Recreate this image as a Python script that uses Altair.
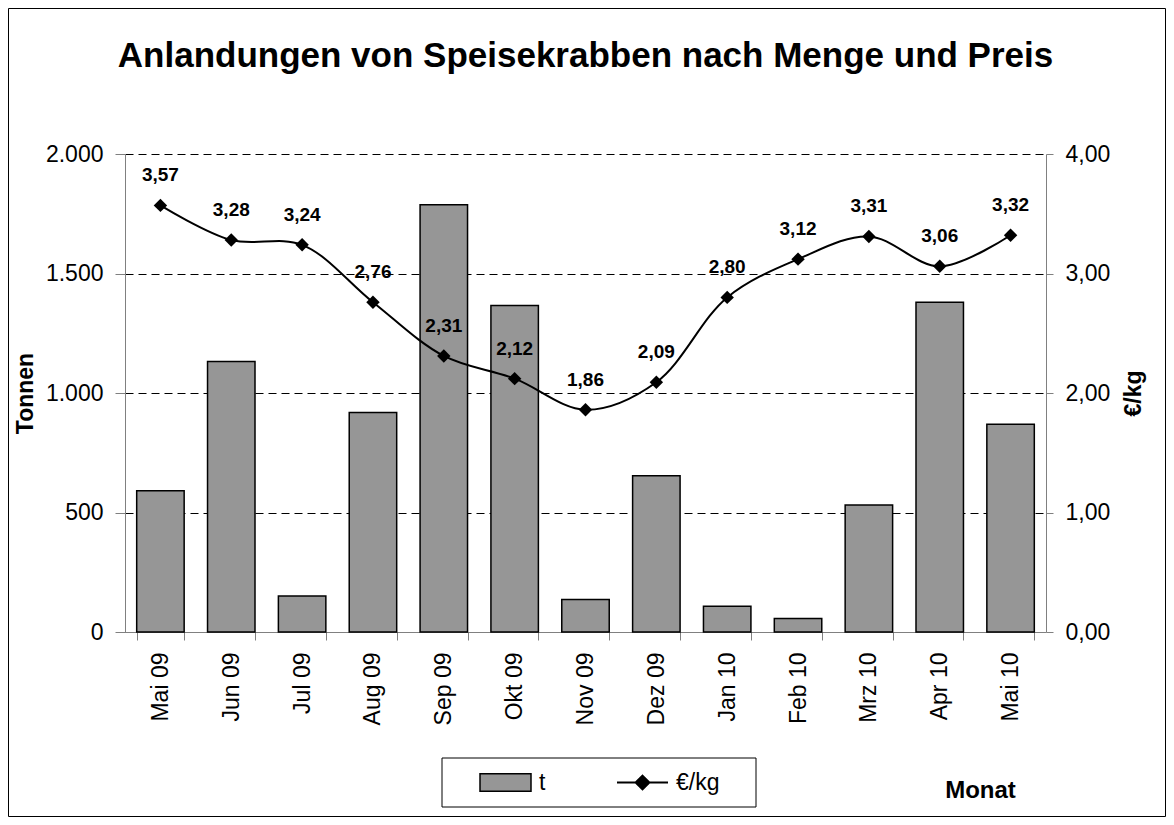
import altair as alt
import pandas as pd

months = ["Mai 09", "Jun 09", "Jul 09", "Aug 09", "Sep 09", "Okt 09", "Nov 09",
          "Dez 09", "Jan 10", "Feb 10", "Mrz 10", "Apr 10", "Mai 10"]
tonnen = [591, 1132, 151, 918, 1788, 1366, 136, 654, 108, 56, 531, 1380, 869]
preis = [3.57, 3.28, 3.24, 2.76, 2.31, 2.12, 1.86, 2.09, 2.80, 3.12, 3.31, 3.06, 3.32]
left_ticks = [0, 500, 1000, 1500, 2000]
right_ticks = [0, 1, 2, 3, 4]

FONT = "Liberation Sans"
W, H = 921, 478

df = pd.DataFrame({"Monat": months, "t": tonnen, "preis": preis})
df["s_t"] = "t"
df["s_p"] = "€/kg"

x = alt.X(
    "Monat:N", sort=months,
    scale=alt.Scale(paddingInner=0.33, paddingOuter=0.165),
    axis=alt.Axis(
        labelAngle=270, labelFontSize=23, labelFont=FONT, labelColor="black",
        tickBand="extent", tickSize=8, labelPadding=12,
        domainColor="#808080", tickColor="#808080",
        title="Monat", titleFont=FONT, titleFontSize=24, titleFontWeight="bold",
        titleX=855, titleY=158, titleAlign="center", titleBaseline="middle",
        grid=False,
    ),
)

rect_path = "M-1,-0.34L1,-0.34L1,0.34L-1,0.34Z"
line_path = "M-1,0L1,0M0,-0.27L0.27,0L0,0.27L-0.27,0Z"

bars = alt.Chart(df).mark_bar(stroke="black", strokeWidth=1.5).encode(
    x=x,
    y=alt.Y(
        "t:Q", scale=alt.Scale(domain=[0, 2000]),
        axis=alt.Axis(
            values=left_ticks,
            labelExpr="replace(format(datum.value, ',.0f'), ',', '.')",
            labelFontSize=23, labelFont=FONT, labelColor="black",
            tickSize=10, labelPadding=12,
            domainColor="#808080", tickColor="#808080",
            grid=True, gridColor="black", gridDash=[8, 5], gridWidth=1,
            title="Tonnen", titleFont=FONT, titleFontSize=23, titleFontWeight="bold",
            titleAngle=270, titleX=-100, titleY=H / 2,
            titleAlign="center", titleBaseline="middle",
        ),
    ),
    fill=alt.Fill(
        "s_t:N", scale=alt.Scale(domain=["t"], range=["#969696"]),
        legend=alt.Legend(
            orient="none", legendX=354, legendY=602, title=None,
            symbolType=rect_path, symbolSize=2601, symbolStrokeColor="black",
            symbolStrokeWidth=1.5, labelFontSize=23, labelFont=FONT,
            labelColor="black", labelOffset=7, padding=0,
        ),
    ),
)

y_price = alt.Y(
    "preis:Q", scale=alt.Scale(domain=[0, 4]),
    axis=alt.Axis(
        orient="right", values=right_ticks,
        labelExpr="replace(format(datum.value, '.2f'), '.', ',')",
        labelFontSize=23, labelFont=FONT, labelColor="black",
        tickSize=7, labelPadding=12,
        domainColor="#808080", tickColor="#808080", grid=False,
        title="€/kg", titleFont=FONT, titleFontSize=23, titleFontWeight="bold",
        titleAngle=270, titleX=87, titleY=H / 2,
        titleAlign="center", titleBaseline="middle",
    ),
)

color_p = alt.Color(
    "s_p:N", scale=alt.Scale(domain=["€/kg"], range=["black"]),
    legend=alt.Legend(
        orient="none", legendX=491, legendY=602, title=None,
        symbolType=line_path, symbolSize=2601, symbolStrokeWidth=2,
        symbolFillColor="black", symbolStrokeColor="black",
        labelFontSize=23, labelFont=FONT, labelColor="black",
        labelOffset=7, padding=0,
    ),
)

line = alt.Chart(df).mark_line(interpolate="catmull-rom", strokeWidth=2).encode(
    x=x, y=y_price, color=color_p
)
points = alt.Chart(df).mark_point(shape="diamond", filled=True, size=180, opacity=1).encode(
    x=x, y=y_price, color=color_p
)
labels = alt.Chart(df).transform_calculate(
    lab="replace(format(datum.preis, '.2f'), '.', ',')"
).mark_text(
    fontSize=19, fontWeight="bold", font=FONT, dy=-30, color="black", baseline="middle"
).encode(x=x, y=y_price, text="lab:N")

deco = pd.DataFrame({"k": [0]})
legend_box = alt.Chart(deco).mark_rect(filled=False, stroke="black", strokeWidth=1).encode(
    x=alt.value(317), x2=alt.value(631), y=alt.value(604), y2=alt.value(653)
)
outer_box = alt.Chart(deco).mark_rect(filled=False, stroke="black", strokeWidth=1).encode(
    x=alt.value(-116.5), x2=alt.value(W + 119.5), y=alt.value(-145.5), y2=alt.value(H + 184.5)
)

price_layer = alt.layer(line, points, labels)

chart = alt.layer(bars, price_layer, legend_box, outer_box).resolve_scale(
    y="independent"
).properties(
    width=W, height=H,
    autosize=alt.AutoSizeParams(type="none"),
    padding={"left": 117, "top": 146, "right": 120, "bottom": 185},
    title=alt.TitleParams(
        "Anlandungen von Speisekrabben nach Menge und Preis",
        fontSize=35, font=FONT, fontWeight="bold", color="black",
        anchor="middle", frame="group", offset=-94, baseline="alphabetic",
    ),
    background="white",
).configure_view(strokeWidth=0)

chart.save("out.html", embed_options={"renderer": "svg", "actions": False})
